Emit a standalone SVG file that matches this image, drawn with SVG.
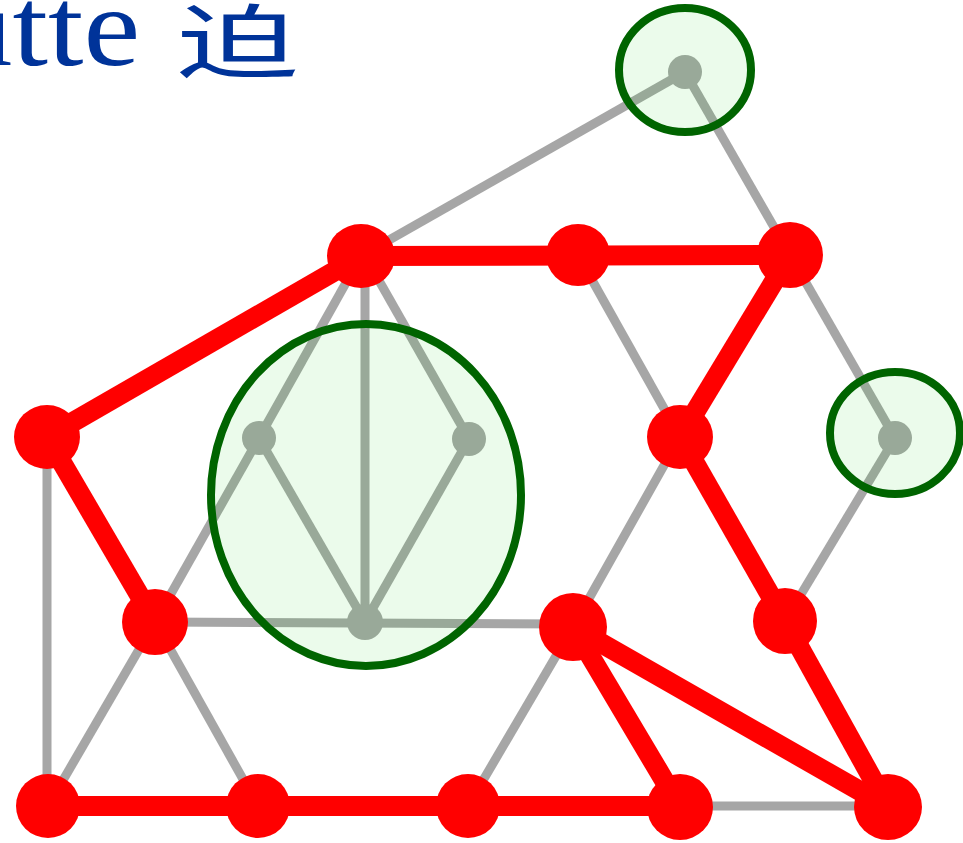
<svg xmlns="http://www.w3.org/2000/svg" width="963" height="843" viewBox="0 0 963 843">
<style>
.g{stroke:#a6a6a6;stroke-width:9;fill:none;stroke-linecap:butt}
.r{stroke:#ff0000;stroke-width:20;fill:none}
.rn{fill:#ff0000}
.gn{fill:#a6a6a6}
.cl{fill:#00c800;fill-opacity:0.08;stroke:#006400;stroke-width:8}
.tt{font-family:'Liberation Serif','Times New Roman',serif;font-size:112px;fill:#003399}
.tc{font-family:'Noto Sans CJK SC','Noto Sans CJK JP',sans-serif;font-size:80px;fill:#003399}
</style>
<rect width="963" height="843" fill="#ffffff"/>
<text class="tt" x="-45" y="65" transform="scale(1.14,1)">utte</text>
<text class="tc" x="0" y="71" transform="translate(177,0) scale(1.52,1)">迫</text>
<g id="connectors">
<line class="g" x1="361" y1="256" x2="685" y2="72"/>
<line class="g" x1="685" y1="72" x2="790" y2="255"/>
<line class="g" x1="361" y1="256" x2="259" y2="438"/>
<line class="g" x1="365" y1="256" x2="365" y2="622"/>
<line class="g" x1="365" y1="256" x2="469" y2="439"/>
<line class="g" x1="259" y1="438" x2="365" y2="622"/>
<line class="g" x1="469" y1="439" x2="365" y2="622"/>
<line class="g" x1="259" y1="438" x2="155" y2="622"/>
<line class="g" x1="155" y1="622" x2="573" y2="624"/>
<line class="g" x1="578" y1="255" x2="680" y2="437"/>
<line class="g" x1="790" y1="255" x2="895" y2="438"/>
<line class="g" x1="895" y1="438" x2="785" y2="621"/>
<line class="g" x1="680" y1="437" x2="573" y2="627"/>
<line class="g" x1="47" y1="437" x2="47" y2="806"/>
<line class="g" x1="155" y1="622" x2="48" y2="806"/>
<line class="g" x1="155" y1="622" x2="258" y2="806"/>
<line class="g" x1="573" y1="627" x2="468" y2="806"/>
<line class="g" x1="680" y1="806" x2="888" y2="806"/>
<line class="r" x1="361" y1="256" x2="790" y2="255"/>
<line class="r" x1="361" y1="256" x2="47" y2="437"/>
<line class="r" x1="790" y1="255" x2="680" y2="437"/>
<line class="r" x1="47" y1="437" x2="155" y2="622"/>
<line class="r" x1="680" y1="437" x2="785" y2="621"/>
<line class="r" x1="785" y1="621" x2="888" y2="807"/>
<line class="r" x1="573" y1="627" x2="680" y2="807"/>
<line class="r" x1="573" y1="627" x2="888" y2="807"/>
<line class="r" x1="48" y1="806" x2="680" y2="806"/>
</g>
<g id="nodes">
<g id="nA"><ellipse class="rn" cx="361" cy="256" rx="34" ry="32"/></g>
<g id="nB"><ellipse class="rn" cx="578" cy="255" rx="32" ry="31"/></g>
<g id="nC"><ellipse class="rn" cx="790" cy="255" rx="33" ry="33"/></g>
<g id="nD"><ellipse class="rn" cx="47" cy="437" rx="33" ry="32"/></g>
<g id="nE"><ellipse class="rn" cx="680" cy="437" rx="33" ry="32"/></g>
<g id="nF"><ellipse class="rn" cx="155" cy="622" rx="33" ry="33"/></g>
<g id="nG"><ellipse class="rn" cx="573" cy="627" rx="34" ry="34"/></g>
<g id="nH"><ellipse class="rn" cx="785" cy="621" rx="32" ry="33"/></g>
<g id="nI"><ellipse class="rn" cx="48" cy="806" rx="32" ry="32"/></g>
<g id="nJ"><ellipse class="rn" cx="258" cy="806" rx="32" ry="32"/></g>
<g id="nK"><ellipse class="rn" cx="468" cy="806" rx="32" ry="32"/></g>
<g id="nL"><ellipse class="rn" cx="680" cy="807" rx="33" ry="33"/></g>
<g id="nM"><ellipse class="rn" cx="888" cy="807" rx="34" ry="33"/></g>
<g id="nP"><circle class="gn" cx="685" cy="72" r="17"/></g>
<g id="nQ"><circle class="gn" cx="259" cy="438" r="17"/></g>
<g id="nR"><circle class="gn" cx="469" cy="439" r="17"/></g>
<g id="nS"><circle class="gn" cx="365" cy="622" r="18"/></g>
<g id="nT"><circle class="gn" cx="895" cy="438" r="17"/></g>
</g>
<g id="clusters">
<g id="cluster1"><ellipse class="cl" cx="685" cy="70" rx="66" ry="62"/></g>
<g id="cluster2"><ellipse class="cl" cx="366" cy="495" rx="155" ry="171"/></g>
<g id="cluster3"><ellipse class="cl" cx="895" cy="433" rx="65" ry="61"/></g>
</g>
</svg>
